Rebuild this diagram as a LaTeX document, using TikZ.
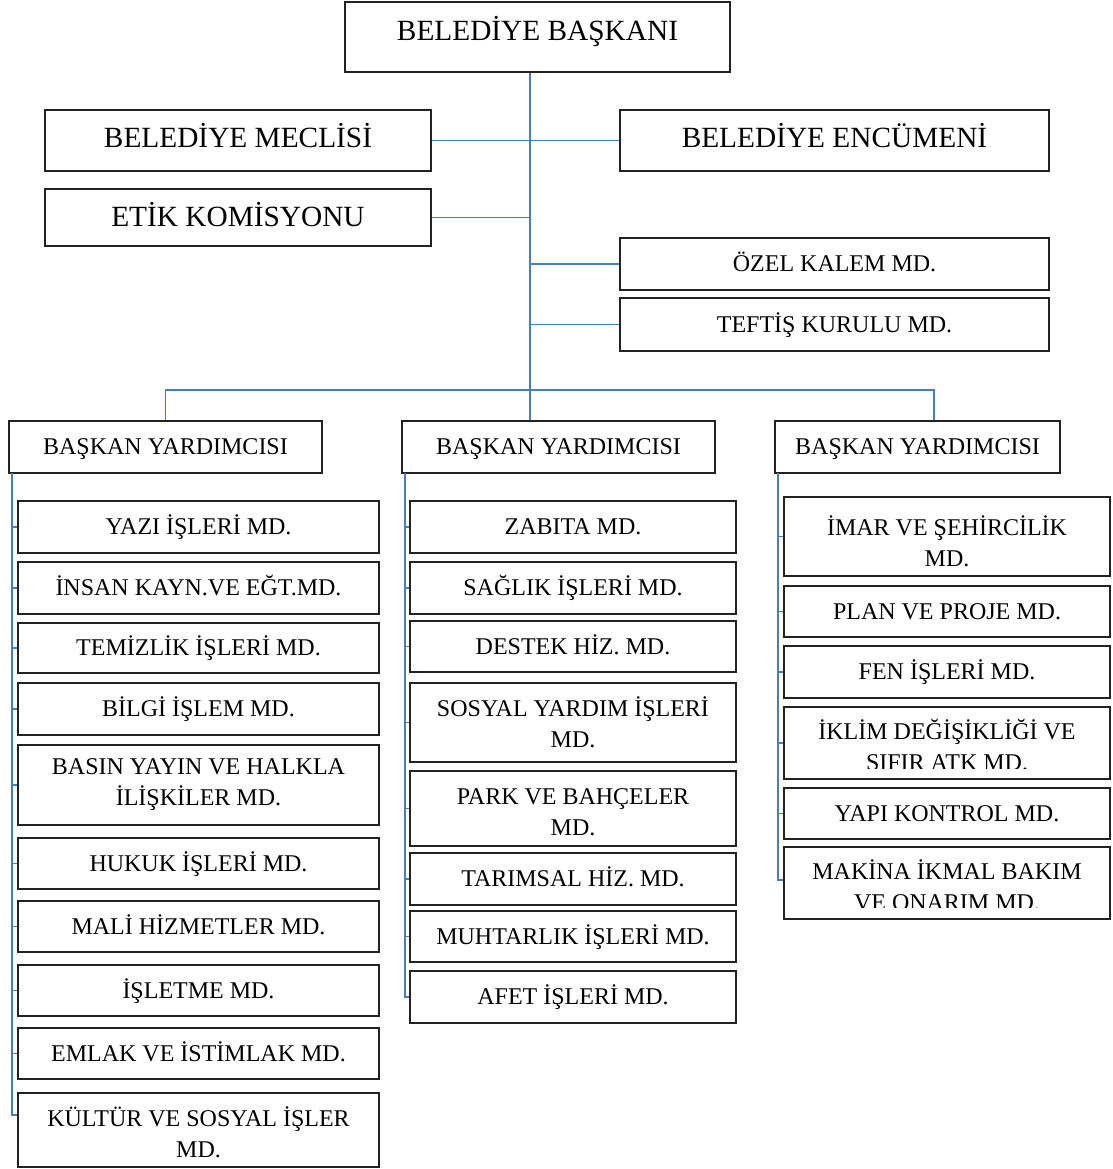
\documentclass[tikz,border=0pt]{standalone}
\usepackage{fontspec}
\setmainfont{Liberation Serif}
\definecolor{linkblue}{HTML}{4A7EBB}
\definecolor{boxline}{HTML}{222222}
\tikzset{
  box/.style={draw=boxline, line width=0.8pt, fill=white, inner sep=0pt, align=center},
  bigtxt/.style={font=\fontsize{22}{27}\selectfont},
  smalltxt/.style={font=\fontsize{18}{23.25}\selectfont},
  single/.style={smalltxt, text height=15.5pt, text depth=4pt},
  twoline/.style={smalltxt, align=center, inner sep=0pt},
  link/.style={draw=linkblue, line width=1.4pt},
}
\newcommand\obox[7][single]{%
  \pgfmathsetmacro\bw{(#5-#3)*0.75}%
  \pgfmathsetmacro\bh{(#6-#4)*0.75}%
  \node[box,#1,minimum width=\bw pt,minimum height=\bh pt] (#2) at ({(#3+#5)/2},{(#4+#6)/2}) {#7};}
% two-line box: name, x1,y1,x2,y2, text centre y, text
\newcommand\tbox[7]{%
  \obox[smalltxt]{#1}{#2}{#3}{#4}{#5}{}%
  \node[twoline] (#1t) at ({(#2+#4)/2},#6) {#7};}
\begin{document}
\begin{tikzpicture}[x=0.75pt,y=-0.75pt]
\useasboundingbox (0,0) rectangle (1112,1169);
% top level
\obox[bigtxt]{pres}{345}{2}{730}{72}{\raisebox{13.25pt}{BELEDİYE BAŞKANI}}
\obox[bigtxt]{meclis}{45}{110}{431}{171}{\raisebox{8pt}{BELEDİYE MECLİSİ}}
\obox[bigtxt]{encumen}{620}{110}{1049}{171}{\raisebox{8pt}{BELEDİYE ENCÜMENİ}}
\obox[bigtxt]{etik}{45}{189}{431}{246}{\raisebox{5pt}{ETİK KOMİSYONU}}
\obox{ozel}{620}{238}{1049}{290}{ÖZEL KALEM MD.}
\obox{teftis}{620}{298}{1049}{351}{TEFTİŞ KURULU MD.}
% deputies
\obox{by1}{9}{421}{322}{473}{BAŞKAN YARDIMCISI}
\obox{by2}{402}{421}{715}{473}{BAŞKAN YARDIMCISI}
\obox{by3}{775}{421}{1060}{473}{BAŞKAN YARDIMCISI}
% left column
\obox{a1}{18}{501}{379}{553}{YAZI İŞLERİ MD.}
\obox{a2}{18}{562}{379}{614}{İNSAN KAYN.VE EĞT.MD.}
\obox{a3}{18}{623}{379}{673}{TEMİZLİK İŞLERİ MD.}
\obox{a4}{18}{683}{379}{735}{BİLGİ İŞLEM MD.}
\tbox{a5}{18}{745}{379}{825}{785}{BASIN YAYIN VE HALKLA\\İLİŞKİLER MD.}
\obox{a6}{18}{838}{379}{889}{HUKUK İŞLERİ MD.}
\obox{a7}{18}{901}{379}{952}{MALİ HİZMETLER MD.}
\obox{a8}{18}{965}{379}{1016}{İŞLETME MD.}
\obox{a9}{18}{1028}{379}{1079}{EMLAK VE İSTİMLAK MD.}
\tbox{a10}{18}{1093}{379}{1167}{1132}{KÜLTÜR VE SOSYAL İŞLER\\MD.}
% middle column
\obox{b1}{410}{501}{736}{553}{ZABITA MD.}
\obox{b2}{410}{562}{736}{614}{SAĞLIK İŞLERİ MD.}
\obox{b3}{410}{621}{736}{672}{DESTEK HİZ. MD.}
\tbox{b4}{410}{683}{736}{762}{722}{SOSYAL YARDIM İŞLERİ\\MD.}
\tbox{b5}{410}{771}{736}{846}{812}{PARK VE BAHÇELER\\MD.}
\obox{b6}{410}{853}{736}{905}{TARIMSAL HİZ. MD.}
\obox{b7}{410}{911}{736}{962}{MUHTARLIK İŞLERİ MD.}
\obox{b8}{410}{971}{736}{1023}{AFET İŞLERİ MD.}
% right column
\tbox{c1}{784}{497}{1110}{576}{541}{İMAR VE ŞEHİRCİLİK\\MD.}
\obox{c2}{784}{586}{1110}{637}{PLAN VE PROJE MD.}
\obox{c3}{784}{646}{1110}{698}{FEN İŞLERİ MD.}
\obox[smalltxt]{c4}{784}{707}{1110}{779}{}
\begin{scope}
  \clip (c4.north west) rectangle ([yshift=8.5pt]c4.south east);
  \node[twoline] (c4t) at (947,745) {İKLİM DEĞİŞİKLİĞİ VE\\SIFIR ATK MD.};
\end{scope}
\obox{c5}{784}{788}{1110}{839}{YAPI KONTROL MD.}
\obox[smalltxt]{c6}{784}{847}{1110}{919}{}
\begin{scope}
  \clip (c6.north west) rectangle ([yshift=9pt]c6.south east);
  \node[twoline] (c6t) at (947,885) {MAKİNA İKMAL BAKIM\\VE ONARIM MD.};
\end{scope}
% connectors
\coordinate (j) at (530,390);
\coordinate (d3) at (934,0);
\coordinate (s1) at (12,473);
\coordinate (s2) at (405,473);
\coordinate (s3) at (778,473);
\draw[link] (j |- pres.south) -- (j);
\draw[link] (meclis.east) -- (encumen.west);
\draw[link] (etik.east) -- (etik.east -| j);
\draw[link] (ozel.west) -- (ozel.west -| j);
\draw[link] (teftis.west) -- (teftis.west -| j);
\draw[link] (by1.north) |- (j) -| (by3.north -| d3);
\draw[link] (j) -- (j |- by2.north);
\foreach \n in {a1,a2,a3,a4,a5,a6,a7,a8,a9}{\draw[link] (s1) |- (\n.west);}
\draw[link] (s1) |- ([yshift=11.25pt]a10.west);
\foreach \n in {b1,b2,b3,b4,b5,b6,b7,b8}{\draw[link] (s2) |- (\n.west);}
\foreach \n in {c1,c2,c3,c4,c5}{\draw[link] (s3) |- (\n.west);}
\draw[link] (s3) |- ([yshift=2pt]c6.west);
\end{tikzpicture}
\end{document}
